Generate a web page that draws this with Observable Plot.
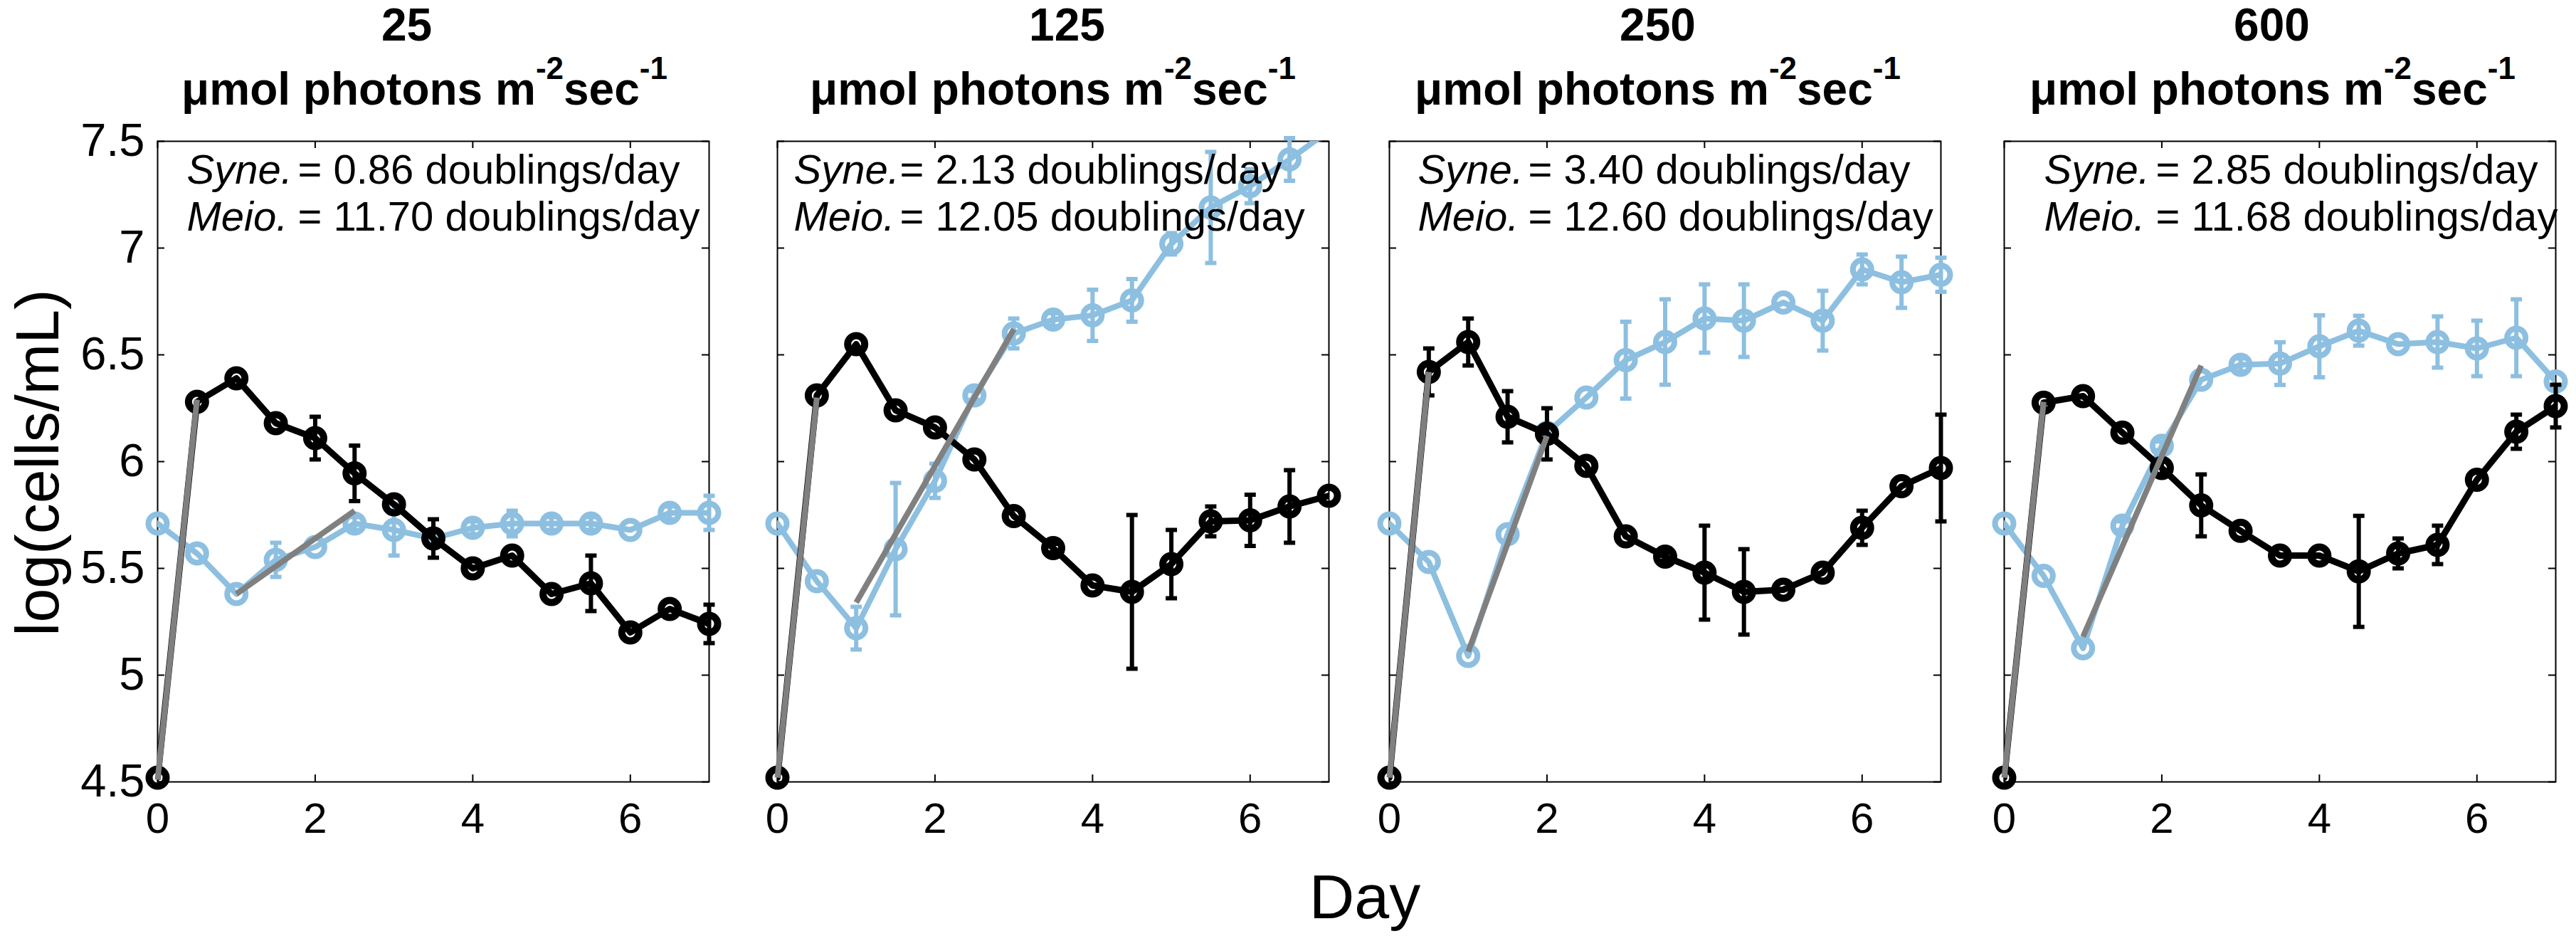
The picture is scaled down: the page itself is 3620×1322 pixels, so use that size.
<!DOCTYPE html>
<html><head><meta charset="utf-8">
<script src="https://cdn.jsdelivr.net/npm/d3@7"></script>
<script src="https://cdn.jsdelivr.net/npm/@observablehq/plot@0.6"></script>
<style>
html,body{margin:0;padding:0;background:#fff;}
#fig{position:relative;width:3620px;height:1322px;background:#fff;overflow:hidden;}
#fig svg{position:absolute;top:0;max-width:none;}
</style></head><body><div id="fig"></div>
<script>
// ---------- data ----------
const days = [0,0.5,1,1.5,2,2.5,3,3.5,4,4.5,5,5.5,6,6.5,7];
const lightLevels = ["25","125","250","600"];
const syneRates = ["0.86","2.13","3.40","2.85"];
const meioRates = ["11.70","12.05","12.60","11.68"];
const xTicks = [0,2,4,6];
const yTicks = [4.5,5,5.5,6,6.5,7,7.5];

// Meio. (black)
const meio25  = [4.52,6.28,6.39,6.18,6.11,5.945,5.80,5.64,5.50,5.56,5.38,5.43,5.20,5.31,5.24];
const meio125 = [4.52,6.31,6.55,6.24,6.16,6.01,5.745,5.595,5.42,5.39,5.52,5.72,5.725,5.79,5.84];
const meio250 = [4.52,6.42,6.56,6.21,6.13,5.98,5.65,5.555,5.48,5.39,5.40,5.48,5.69,5.885,5.97];
const meio600 = [4.52,6.276,6.307,6.136,5.97,5.795,5.676,5.56,5.56,5.486,5.57,5.61,5.915,6.14,6.26];
const meioErr25  = [0,0,0,0,0.1,0.13,0,0.09,0,0,0,0.13,0,0,0.09];
const meioErr125 = [0,0,0,0,0,0,0,0.02,0,0.36,0.16,0.07,0.12,0.17,0];
const meioErr250 = [0,0.11,0.11,0.12,0.12,0,0,0.02,0.22,0.2,0,0,0.08,0,0.25];
const meioErr600 = [0,0,0,0,0.03,0.145,0,0,0,0.26,0.07,0.09,0,0.08,0.1];

// Syne. (blue)
const syne25  = [5.71,5.57,5.38,5.54,5.60,5.71,5.68,5.64,5.69,5.71,5.71,5.71,5.68,5.76,5.76];
const syne125 = [5.71,5.44,5.22,5.59,5.91,6.31,6.60,6.665,6.685,6.755,7.02,7.19,7.29,7.415,7.55];
const syne250 = [5.71,5.53,5.09,5.66,6.135,6.30,6.475,6.56,6.67,6.66,6.745,6.66,6.90,6.84,6.875];
const syne600 = [5.71,5.465,5.126,5.70,6.074,6.383,6.453,6.459,6.54,6.613,6.55,6.56,6.53,6.58,6.375];
const syneErr25  = [0,0,0,0.08,0,0.03,0.12,0.02,0.03,0.06,0.03,0.03,0,0.03,0.08];
const syneErr125 = [0,0,0.1,0.31,0.08,0.02,0.07,0.03,0.12,0.1,0.05,0.26,0.08,0.1,0];
const syneErr250 = [0,0,0,0,0.02,0,0.18,0.2,0.16,0.17,0,0.14,0.07,0.12,0.08];
const syneErr600 = [0,0,0,0.02,0.02,0,0.03,0.1,0.145,0.07,0,0.12,0.13,0.18,0];

// growth-rate fit segments (gray)
const meioFitX = [[0,0.5],[0,0.5],[0,0.5],[0,0.5]];
const meioFitY = [[4.51,6.29],[4.52,6.30],[4.52,6.42],[4.52,6.28]];
const syneFitX = [[1,2.5],[1,3],[1,2],[1,2.5]];
const syneFitY = [[5.38,5.77],[5.34,6.62],[5.11,6.12],[5.18,6.45]];

const meioSeries = [meio25, meio125, meio250, meio600];
const meioErrs = [meioErr25, meioErr125, meioErr250, meioErr600];
const syneSeries = [syne25, syne125, syne250, syne600];
const syneErrs = [syneErr25, syneErr125, syneErr250, syneErr600];

// ---------- layout / style ----------
const FONT = "'Liberation Sans', Arial, Helvetica, sans-serif";
const BLACK = "#000000", BLUE = "#8dbfe0", GRAY = "#808080";
const W = 3620, H = 1322, TOP = 198, BOT = 1098, FW = 775;
const frameLeft = [221, 1092, 1952, 2816];
const nameDx = [41, 23, 40, 56];
const eqDx = [197, 172, 195, 213];
const title1Off = [-37, 20, -10, -11];
const title2Off = [-12, 0, -10, -10];

const fig = document.getElementById("fig");

// overlay for figure-level texts
const over = d3.create("svg").attr("width", W).attr("height", H)
  .style("left", "0px").style("font-family", FONT);
lightLevels.forEach((lv, i) => {
  const cx = frameLeft[i] + FW / 2;
  over.append("text").attr("x", cx + title1Off[i]).attr("y", 57)
    .attr("text-anchor", "middle").attr("font-weight", "bold").attr("font-size", 64).text(lv);
  const t = over.append("text").attr("x", cx + title2Off[i]).attr("y", 147)
    .attr("text-anchor", "middle").attr("font-weight", "bold").attr("font-size", 64);
  t.append("tspan").text("\u03bcmol photons m");
  t.append("tspan").attr("font-size", 44).attr("dy", -36).text("-2");
  t.append("tspan").attr("dy", 36).text("sec");
  t.append("tspan").attr("font-size", 44).attr("dy", -36).text("-1");
});
over.append("text").attr("transform", "translate(82,650) rotate(-90)")
  .attr("text-anchor", "middle").attr("font-size", 86).text("log(cells/mL)");
over.append("text").attr("x", 1918).attr("y", 1290)
  .attr("text-anchor", "middle").attr("font-size", 88).text("Day");
fig.appendChild(over.node());

const capSymbol = {draw(ctx, size) { const w = Math.sqrt(size) / 2; ctx.moveTo(-w, 0); ctx.lineTo(w, 0); }};

function seriesMarks(values, errs, color, lw, cr, cw) {
  const rows = days.map((d, k) => ({day: d, value: values[k], err: errs[k]}));
  const inRange = rows.filter(d => d.value <= 7.5 && d.value >= 4.5);
  const withErr = inRange.filter(d => d.err > 0);
  return [
    Plot.line(rows, {x: "day", y: "value", stroke: color, strokeWidth: lw, strokeLinejoin: "round", clip: true}),
    Plot.ruleX(withErr, {x: "day", y1: d => d.value - d.err, y2: d => d.value + d.err, stroke: color, strokeWidth: 6}),
    Plot.dot(withErr, {x: "day", y: d => d.value + d.err, symbol: capSymbol, r: 9, stroke: color, strokeWidth: 6, fill: "none"}),
    Plot.dot(withErr, {x: "day", y: d => d.value - d.err, symbol: capSymbol, r: 9, stroke: color, strokeWidth: 6, fill: "none"}),
    Plot.dot(inRange, {x: "day", y: "value", r: cr, stroke: color, strokeWidth: cw, fill: "none"})
  ];
}

lightLevels.forEach((lv, i) => {
  const ML = i === 0 ? 221 : 40, MR = 30;
  const fits = [
    {x1: meioFitX[i][0], x2: meioFitX[i][1], y1: meioFitY[i][0], y2: meioFitY[i][1]},
    {x1: syneFitX[i][0], x2: syneFitX[i][1], y1: syneFitY[i][0], y2: syneFitY[i][1]}
  ];
  const marks = [
    Plot.frame({stroke: BLACK, strokeWidth: 2}),
    Plot.tickY(yTicks, {y: d => d, insetRight: FW - 10, stroke: BLACK, strokeWidth: 2}),
    Plot.tickY(yTicks, {y: d => d, insetLeft: FW - 10, stroke: BLACK, strokeWidth: 2}),
    Plot.tickX(xTicks, {x: d => d, insetTop: (BOT - TOP) - 10, stroke: BLACK, strokeWidth: 2}),
    Plot.tickX(xTicks, {x: d => d, insetBottom: (BOT - TOP) - 10, stroke: BLACK, strokeWidth: 2}),
    Plot.axisX(xTicks, {tickSize: 0, tickPadding: 29, fontSize: 60, tickFormat: d => String(d), label: null}),
    ...seriesMarks(syneSeries[i], syneErrs[i], BLUE, 8, 13, 8),
    ...seriesMarks(meioSeries[i], meioErrs[i], BLACK, 9, 12, 10),
    Plot.link(fits, {x1: "x1", y1: "y1", x2: "x2", y2: "y2", stroke: GRAY, strokeWidth: 8}),
    Plot.text(["Syne."], {frameAnchor: "top-left", text: d => d, dx: nameDx[i], dy: 59, lineAnchor: "bottom", textAnchor: "start", fontStyle: "italic", fontSize: 58}),
    Plot.text(["Meio."], {frameAnchor: "top-left", text: d => d, dx: nameDx[i], dy: 125, lineAnchor: "bottom", textAnchor: "start", fontStyle: "italic", fontSize: 58}),
    Plot.text([syneRates[i]], {frameAnchor: "top-left", text: d => "= " + d + " doublings/day", dx: eqDx[i], dy: 59, lineAnchor: "bottom", textAnchor: "start", fontSize: 58}),
    Plot.text([meioRates[i]], {frameAnchor: "top-left", text: d => "= " + d + " doublings/day", dx: eqDx[i], dy: 125, lineAnchor: "bottom", textAnchor: "start", fontSize: 58})
  ];
  if (i === 0) marks.push(Plot.axisY(yTicks, {tickSize: 0, tickPadding: 18, fontSize: 65, tickFormat: d => String(d), label: null}));
  const p = Plot.plot({
    width: ML + FW + MR, height: H,
    marginLeft: ML, marginRight: MR, marginTop: TOP, marginBottom: H - BOT,
    x: {domain: [0, 7]},
    y: {domain: [4.5, 7.5], axis: i === 0 ? undefined : null},
    style: {fontFamily: FONT, background: "transparent", overflow: "visible", color: "black"},
    marks
  });
  p.style.left = (frameLeft[i] - ML) + "px";
  fig.appendChild(p);
});
</script></body></html>
